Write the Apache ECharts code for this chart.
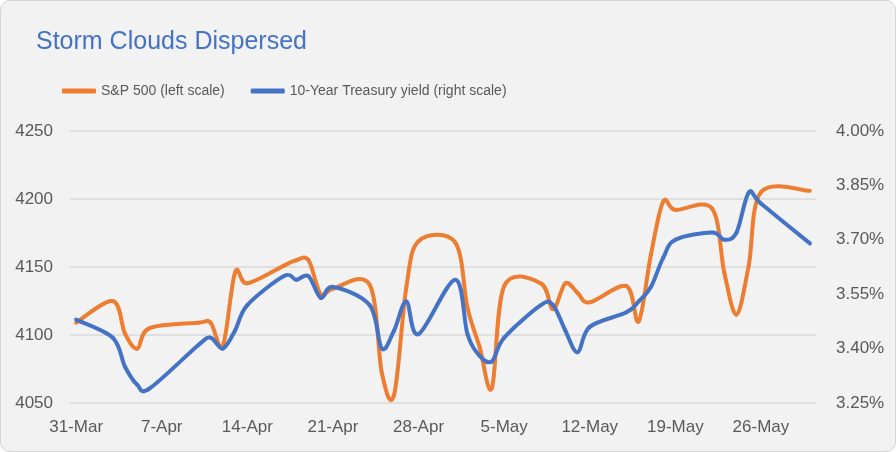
<!DOCTYPE html>
<html>
<head>
<meta charset="utf-8">
<title>Storm Clouds Dispersed</title>
<script src="https://cdn.jsdelivr.net/npm/echarts@6/dist/echarts.min.js"></script>
<style>
  html, body { margin: 0; padding: 0; background: #ffffff; }
  #wrap { position: relative; width: 896px; height: 452px; background: #f2f2f2; border-radius: 10px; }
  #chart { position: absolute; left: 0; top: 0; width: 896px; height: 452px; }
  #frame { position: absolute; left: 0; top: 0; right: 0; bottom: 0; border: 1.5px solid #d4d4d4; border-radius: 10px; pointer-events: none; }
</style>
</head>
<body>
<div id="wrap">
  <div id="chart"></div>
  <div id="frame"></div>
</div>
<script>
// trading days, 31 Mar - 30 May 2023
const tradeDays = [
  '2023-03-31',
  '2023-04-03', '2023-04-04', '2023-04-05', '2023-04-06',
  '2023-04-10', '2023-04-11', '2023-04-12', '2023-04-13', '2023-04-14',
  '2023-04-17', '2023-04-18', '2023-04-19', '2023-04-20', '2023-04-21',
  '2023-04-24', '2023-04-25', '2023-04-26', '2023-04-27', '2023-04-28',
  '2023-05-01', '2023-05-02', '2023-05-03', '2023-05-04', '2023-05-05',
  '2023-05-08', '2023-05-09', '2023-05-10', '2023-05-11', '2023-05-12',
  '2023-05-15', '2023-05-16', '2023-05-17', '2023-05-18', '2023-05-19',
  '2023-05-22', '2023-05-23', '2023-05-24', '2023-05-25', '2023-05-26',
  '2023-05-30'
]

// S&P 500 close (left scale)
const spx = [
  4109,
  4125, 4101, 4090, 4105,
  4109, 4109, 4092, 4146, 4138,
  4151, 4155, 4155, 4130, 4134,
  4137, 4072, 4056, 4135, 4169,
  4168, 4120, 4091, 4061, 4136,
  4138, 4119, 4138, 4131, 4124,
  4136, 4110, 4159, 4198, 4192,
  4193, 4146, 4115, 4151, 4205,
  4206
]

// 10-year Treasury yield, % (right scale)
const yields = [
  3.48,
  3.43, 3.35, 3.30, 3.29,
  3.41, 3.43, 3.40, 3.45, 3.52,
  3.60, 3.59, 3.60, 3.54, 3.57,
  3.52, 3.40, 3.45, 3.53, 3.44,
  3.59, 3.44, 3.38, 3.365, 3.43,
  3.52, 3.52, 3.45, 3.39, 3.46,
  3.50, 3.53, 3.57, 3.65, 3.70,
  3.72, 3.70, 3.72, 3.83, 3.80,
  3.69
]

const leftTicks = { min: 4050, max: 4250, step: 50 }
const rightTicks = { min: 3.25, max: 4.00, step: 0.15 }

const months = ['Jan', 'Feb', 'Mar', 'Apr', 'May', 'Jun', 'Jul', 'Aug', 'Sep', 'Oct', 'Nov', 'Dec']
const dayLabel = (d) => d.getUTCDate() + '-' + months[d.getUTCMonth()]

// calendar days on the axis (date axis, weekends included)
const categories = []
const dayIndex = {}
for (let t = Date.UTC(2023, 2, 31); t <= Date.UTC(2023, 4, 30); t += 86400000) {
  const d = new Date(t)
  dayIndex[d.toISOString().slice(0, 10)] = categories.length
  categories.push(dayLabel(d))
}

// spreadsheet-style smoothed line: one cubic segment per pair of points,
// control points from the neighbours (Catmull-Rom), positions from api.coord
const smoothLine = (name, values, yAxisIndex, color) => {
  const pts = tradeDays.map((day, i) => [dayIndex[day], values[i]])
  const last = pts.length - 1
  return {
    name,
    type: 'custom',
    yAxisIndex,
    data: pts,
    color,
    itemStyle: { color },
    renderItem: (params, api) => {
      const i = params.dataIndex
      if (i >= last) return null
      const at = (k) => api.coord(pts[Math.max(0, Math.min(last, k))])
      const p0 = at(i - 1), p1 = at(i), p2 = at(i + 1), p3 = at(i + 2)
      return {
        type: 'bezierCurve',
        shape: {
          x1: p1[0], y1: p1[1],
          x2: p2[0], y2: p2[1],
          cpx1: p1[0] + (p2[0] - p0[0]) / 6, cpy1: p1[1] + (p2[1] - p0[1]) / 6,
          cpx2: p2[0] - (p3[0] - p1[0]) / 6, cpy2: p2[1] - (p3[1] - p1[1]) / 6
        },
        style: { stroke: color, lineWidth: 4, fill: null, lineCap: 'round' }
      }
    }
  }
}

const chart = echarts.init(document.getElementById('chart'))
const font = 'Liberation Sans, Arial, sans-serif'
const grey = '#595959'

chart.setOption({
  backgroundColor: 'transparent',
  title: {
    text: 'Storm Clouds Dispersed',
    left: 31,
    top: 25,
    textStyle: { color: '#4472c4', fontFamily: font, fontSize: 25, fontWeight: 'normal' }
  },
  legend: {
    left: 62,
    top: 84,
    padding: 0,
    itemWidth: 34,
    itemHeight: 5,
    itemGap: 26,
    icon: 'roundRect',
    textStyle: { color: grey, fontFamily: font, fontSize: 14 },
    data: ['S&P 500 (left scale)', '10-Year Treasury yield (right scale)']
  },
  grid: { left: 70, right: 80, top: 131, bottom: 49 },
  xAxis: {
    type: 'category',
    data: categories,
    boundaryGap: true,
    axisLine: { show: false },
    axisTick: { show: false },
    axisLabel: { interval: 6, color: grey, fontFamily: font, fontSize: 17, margin: 16 }
  },
  yAxis: [
    {
      type: 'value',
      min: leftTicks.min,
      max: leftTicks.max,
      interval: leftTicks.step,
      axisLine: { show: false },
      axisTick: { show: false },
      axisLabel: { color: grey, fontFamily: font, fontSize: 17, margin: 17, formatter: (v) => String(v) },
      splitLine: { lineStyle: { color: '#d9d9d9', width: 1.5 } }
    },
    {
      type: 'value',
      min: rightTicks.min,
      max: rightTicks.max,
      interval: rightTicks.step,
      axisLine: { show: false },
      axisTick: { show: false },
      splitLine: { show: false },
      axisLabel: {
        color: grey, fontFamily: font, fontSize: 17, margin: 20,
        formatter: (v) => v.toFixed(2) + '%'
      }
    }
  ],
  series: [
    smoothLine('S&P 500 (left scale)', spx, 0, '#ed7d31'),
    smoothLine('10-Year Treasury yield (right scale)', yields, 1, '#4472c4')
  ]
})

window.addEventListener('resize', () => {
  chart.resize()
})
</script>
</body>
</html>
